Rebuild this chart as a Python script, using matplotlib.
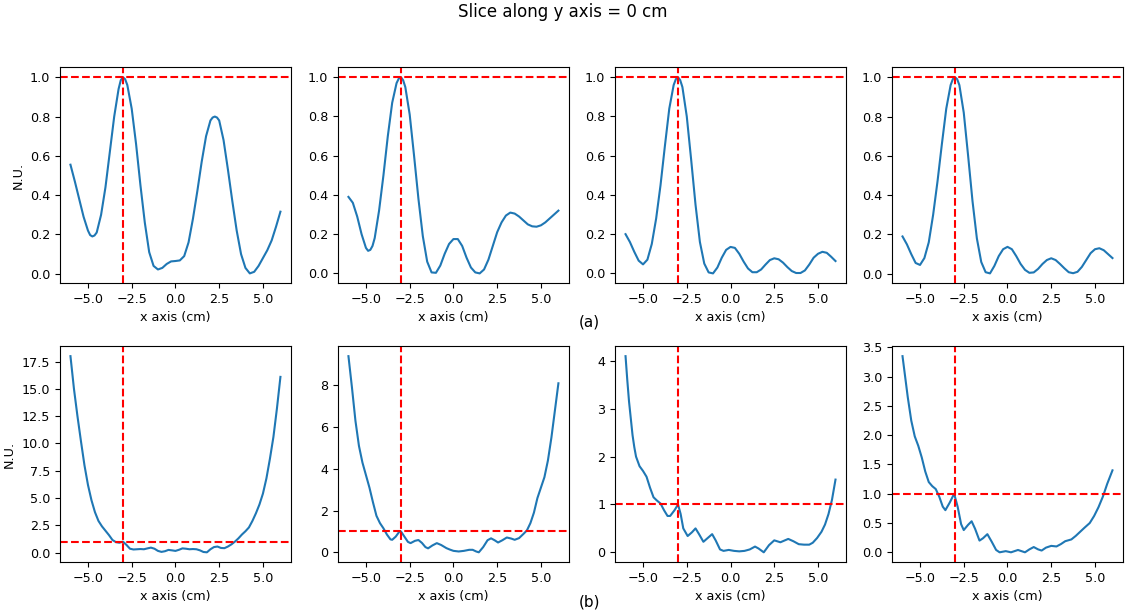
import numpy as np
import matplotlib
matplotlib.use("Agg")
import matplotlib.pyplot as plt
from matplotlib.ticker import MultipleLocator

plt.rcParams["font.size"] = 9.2

# top row (a)
xa1 = [-6.0, -5.75, -5.5, -5.25, -5.0, -4.875, -4.75, -4.625, -4.5, -4.25, -4.0, -3.75,
       -3.5, -3.25, -3.125, -3.0, -2.875, -2.75, -2.5, -2.25, -2.0, -1.75, -1.5, -1.25,
       -1.0, -0.75, -0.5, -0.25, 0.0, 0.25, 0.5, 0.75, 1.0, 1.25, 1.5, 1.75, 2.0, 2.125,
       2.25, 2.375, 2.5, 2.75, 3.0, 3.25, 3.5, 3.75, 4.0, 4.25, 4.5, 4.75, 5.0, 5.25,
       5.5, 5.75, 6.0]
a1 = [0.555, 0.47, 0.38, 0.29, 0.22, 0.197, 0.19, 0.195, 0.21, 0.30, 0.44, 0.62,
      0.80, 0.94, 0.985, 1.0, 0.99, 0.96, 0.84, 0.66, 0.45, 0.26, 0.11, 0.04,
      0.022, 0.03, 0.05, 0.063, 0.065, 0.068, 0.09, 0.16, 0.28, 0.42, 0.57, 0.70, 0.78,
      0.795, 0.80, 0.795, 0.78, 0.68, 0.53, 0.37, 0.22, 0.10, 0.03, 0.002, 0.01, 0.04,
      0.08, 0.12, 0.17, 0.24, 0.316]

xa2 = [-6.0, -5.75, -5.5, -5.25, -5.0, -4.875, -4.75, -4.625, -4.5, -4.25, -4.0, -3.75,
       -3.5, -3.25, -3.125, -3.0, -2.875, -2.75, -2.5, -2.25, -2.0, -1.75, -1.5, -1.25,
       -1.0, -0.75, -0.5, -0.25, 0.0, 0.25, 0.5, 0.75, 1.0, 1.25, 1.5, 1.75, 2.0, 2.25,
       2.5, 2.75, 3.0, 3.25, 3.5, 3.75, 4.0, 4.25, 4.5, 4.75, 5.0, 5.25, 5.5, 5.75, 6.0]
a2 = [0.39, 0.36, 0.29, 0.20, 0.13, 0.115, 0.12, 0.14, 0.18, 0.32, 0.50, 0.70,
      0.87, 0.97, 0.993, 1.0, 0.985, 0.95, 0.81, 0.60, 0.38, 0.19, 0.06, 0.005,
      0.003, 0.04, 0.10, 0.15, 0.175, 0.175, 0.14, 0.08, 0.03, 0.005, 0.0, 0.02, 0.07,
      0.14, 0.21, 0.26, 0.295, 0.31, 0.305, 0.29, 0.27, 0.25, 0.24, 0.238, 0.245, 0.26,
      0.28, 0.30, 0.32]

xa3 = [-6.0, -5.75, -5.5, -5.25, -5.0, -4.75, -4.5, -4.25, -4.0, -3.75, -3.5, -3.25,
       -3.125, -3.0, -2.875, -2.75, -2.5, -2.25, -2.0, -1.75, -1.5, -1.25, -1.0, -0.75,
       -0.5, -0.25, 0.0, 0.25, 0.5, 0.75, 1.0, 1.25, 1.5, 1.75, 2.0, 2.25, 2.5, 2.75,
       3.0, 3.25, 3.5, 3.75, 4.0, 4.25, 4.5, 4.75, 5.0, 5.25, 5.5, 5.75, 6.0]
a3 = [0.20, 0.16, 0.11, 0.065, 0.046, 0.07, 0.15, 0.28, 0.45, 0.65, 0.84, 0.96,
      0.99, 1.0, 0.985, 0.95, 0.80, 0.58, 0.35, 0.16, 0.05, 0.005, 0.0, 0.03,
      0.08, 0.12, 0.135, 0.13, 0.10, 0.06, 0.025, 0.006, 0.006, 0.02, 0.045, 0.068,
      0.077, 0.072, 0.055, 0.032, 0.012, 0.002, 0.002, 0.015, 0.045, 0.08, 0.10, 0.11,
      0.105, 0.085, 0.063]

xa4 = xa3
a4 = [0.19, 0.15, 0.10, 0.055, 0.045, 0.08, 0.16, 0.30, 0.47, 0.66, 0.84, 0.96,
      0.99, 1.0, 0.99, 0.96, 0.82, 0.60, 0.37, 0.18, 0.06, 0.008, 0.002, 0.04,
      0.09, 0.125, 0.137, 0.125, 0.09, 0.05, 0.02, 0.005, 0.007, 0.025, 0.05, 0.07,
      0.079, 0.07, 0.05, 0.028, 0.008, 0.003, 0.01, 0.035, 0.07, 0.105, 0.125, 0.13,
      0.12, 0.10, 0.08]

# bottom row (b)
xb1 = [-6.0, -5.8, -5.6, -5.4, -5.2, -5.0, -4.8, -4.6, -4.4, -4.2, -4.0, -3.8, -3.6,
       -3.4, -3.2, -3.0, -2.8, -2.6, -2.4, -2.2, -2.0, -1.8, -1.6, -1.4, -1.2, -1.0,
       -0.8, -0.6, -0.4, -0.2, 0.0, 0.2, 0.4, 0.6, 0.8, 1.0, 1.2, 1.4, 1.6, 1.8, 2.0,
       2.2, 2.4, 2.6, 2.8, 3.0, 3.2, 3.4, 3.6, 3.8, 4.0, 4.2, 4.4, 4.6, 4.8, 5.0, 5.2,
       5.4, 5.6, 5.8, 6.0]
b1 = [18.0, 15.0, 12.5, 10.2, 8.0, 6.2, 4.8, 3.7, 2.9, 2.4, 2.0, 1.6, 1.15, 0.95,
      0.9, 1.0, 0.7, 0.35, 0.28, 0.3, 0.32, 0.3, 0.38, 0.45, 0.35, 0.15, 0.06, 0.12,
      0.24, 0.2, 0.15, 0.25, 0.38, 0.35, 0.3, 0.32, 0.3, 0.2, 0.05, 0.02, 0.3, 0.5,
      0.55, 0.42, 0.4, 0.55, 0.75, 1.0, 1.3, 1.65, 1.95, 2.3, 2.9, 3.6, 4.4, 5.4, 6.8,
      8.6, 10.6, 13.2, 16.1]

xb2 = [-6.0, -5.8, -5.6, -5.4, -5.2, -5.0, -4.8, -4.6, -4.4, -4.2, -4.0, -3.8, -3.6,
       -3.5, -3.3, -3.1, -3.0, -2.8, -2.6, -2.45, -2.2, -2.0, -1.8, -1.6, -1.45, -1.2,
       -0.95, -0.7, -0.4, -0.2, 0.0, 0.3, 0.6, 0.9, 1.1, 1.3, 1.45, 1.7, 1.95, 2.15,
       2.35, 2.55, 2.8, 3.05, 3.3, 3.5, 3.75, 4.0, 4.2, 4.4, 4.6, 4.8, 5.0, 5.2, 5.4,
       5.6, 5.8, 6.0]
b2 = [9.4, 7.9, 6.3, 5.1, 4.3, 3.7, 3.1, 2.4, 1.75, 1.4, 1.15, 0.85, 0.62, 0.6, 0.75,
      0.98, 1.0, 0.75, 0.5, 0.44, 0.55, 0.59, 0.45, 0.25, 0.19, 0.33, 0.44, 0.35, 0.2,
      0.13, 0.07, 0.04, 0.07, 0.12, 0.12, 0.04, 0.0, 0.25, 0.58, 0.67, 0.58, 0.47,
      0.58, 0.71, 0.66, 0.6, 0.68, 0.88, 1.05, 1.4, 1.9, 2.6, 3.1, 3.6, 4.4, 5.5, 6.8,
      8.1]

xb3 = [-6.0, -5.9, -5.8, -5.7, -5.6, -5.5, -5.4, -5.2, -5.0, -4.8, -4.6, -4.4, -4.2,
       -4.0, -3.8, -3.6, -3.45, -3.2, -3.0, -2.85, -2.7, -2.45, -2.2, -2.0, -1.8, -1.55,
       -1.3, -1.05, -0.85, -0.6, -0.4, -0.1, 0.2, 0.5, 0.8, 1.1, 1.4, 1.6, 1.9, 2.2,
       2.5, 2.85, 3.3, 3.6, 3.9, 4.2, 4.5, 4.7, 4.95, 5.2, 5.4, 5.6, 5.8, 6.0]
b3 = [4.1, 3.6, 3.15, 2.8, 2.45, 2.2, 2.0, 1.8, 1.7, 1.58, 1.35, 1.15, 1.08, 1.02,
      0.88, 0.76, 0.76, 0.88, 1.0, 0.8, 0.5, 0.34, 0.42, 0.5, 0.38, 0.22, 0.3, 0.38,
      0.25, 0.06, 0.03, 0.05, 0.03, 0.02, 0.03, 0.06, 0.12, 0.08, 0.0, 0.15, 0.25,
      0.21, 0.28, 0.23, 0.17, 0.16, 0.16, 0.2, 0.3, 0.43, 0.58, 0.8, 1.1, 1.52]

xb4 = [-6.0, -5.85, -5.7, -5.5, -5.3, -5.1, -4.9, -4.7, -4.5, -4.3, -4.1, -3.9, -3.7,
       -3.55, -3.3, -3.05, -2.85, -2.65, -2.5, -2.25, -2.05, -1.85, -1.6, -1.4, -1.15,
       -0.9, -0.65, -0.45, -0.1, 0.2, 0.6, 1.0, 1.25, 1.5, 1.75, 1.95, 2.2, 2.5, 2.8,
       3.05, 3.3, 3.65, 3.9, 4.15, 4.4, 4.7, 4.95, 5.2, 5.45, 5.7, 6.0]
b4 = [3.35, 3.0, 2.65, 2.25, 1.98, 1.82, 1.62, 1.38, 1.2, 1.13, 1.08, 0.95, 0.78,
      0.72, 0.85, 1.0, 0.78, 0.48, 0.38, 0.47, 0.53, 0.4, 0.2, 0.24, 0.31, 0.18, 0.04,
      0.0, 0.02, 0.0, 0.04, 0.0, 0.05, 0.09, 0.05, 0.03, 0.08, 0.11, 0.1, 0.14, 0.19,
      0.22, 0.28, 0.35, 0.42, 0.5, 0.62, 0.77, 0.95, 1.17, 1.4]

top = [(xa1, a1), (xa2, a2), (xa3, a3), (xa4, a4)]
bottom = [(xb1, b1), (xb2, b2), (xb3, b3), (xb4, b4)]
top_steps = [0.2, 0.2, 0.2, 0.2]
bottom_steps = [2.5, 2, 1, 0.5]

fig = plt.figure(figsize=(11.25, 6.13), dpi=100)
lefts = [0.0533, 0.3004, 0.5467, 0.7929]
w = 0.2053

for series, steps, y0 in [(top, top_steps, 0.538), (bottom, bottom_steps, 0.083)]:
    for i, (x, y) in enumerate(series):
        ax = fig.add_axes([lefts[i], y0, w, 0.352])
        ax.plot(x, y, color="tab:blue", lw=1.5)
        ax.axvline(-3, color="red", ls="--", lw=1.5)
        ax.axhline(1, color="red", ls="--", lw=1.5)
        ax.xaxis.set_major_locator(MultipleLocator(2.5))
        ax.yaxis.set_major_locator(MultipleLocator(steps[i]))
        ax.set_xlabel("x axis (cm)")
        if i == 0:
            ax.set_ylabel("N.U.")

fig.suptitle("Slice along y axis = 0 cm", y=0.995, fontsize=12)
fig.text(0.524, 0.475, "(a)", ha="center", va="center", fontsize=11)
fig.text(0.524, 0.018, "(b)", ha="center", va="center", fontsize=11)

fig.savefig("out.png", dpi=100)
